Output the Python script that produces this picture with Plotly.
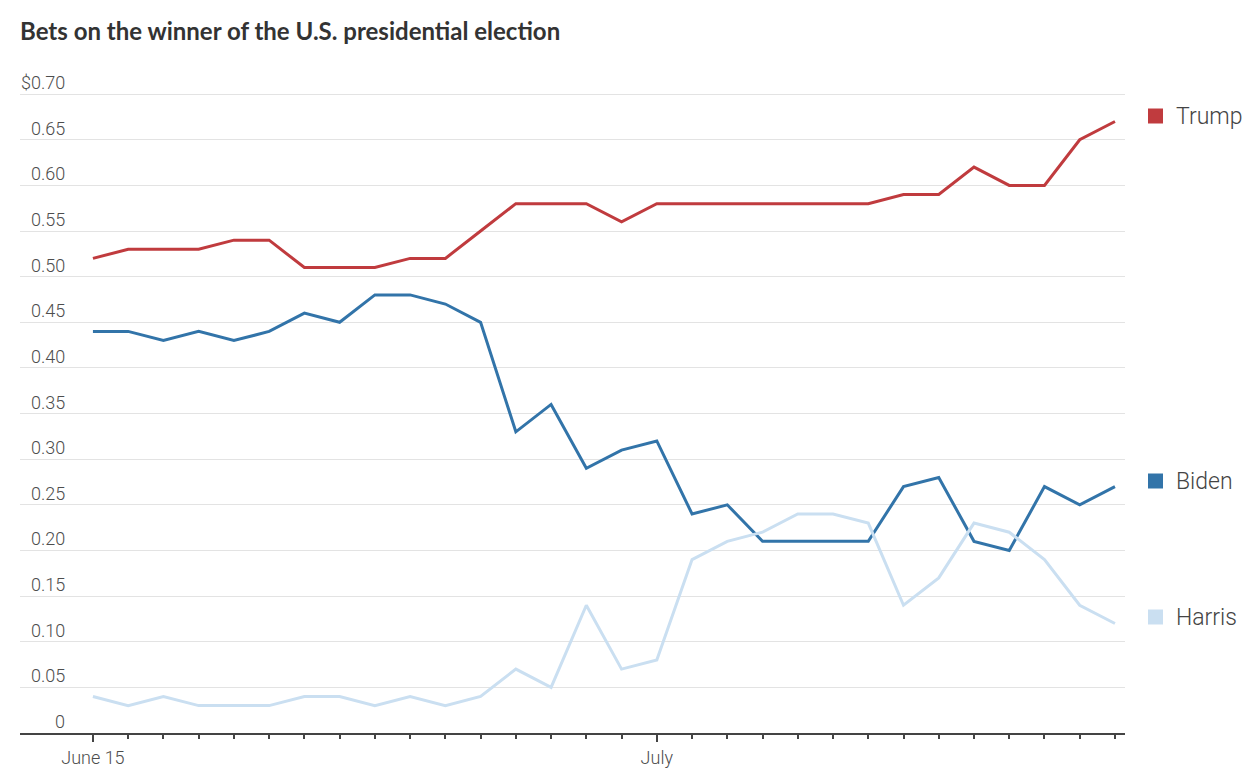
import plotly.graph_objects as go
import pandas as pd

dates = pd.date_range("2024-06-15", "2024-07-14", freq="D")
trump = [0.52, 0.53, 0.53, 0.53, 0.54, 0.54, 0.51, 0.51, 0.51, 0.52, 0.52, 0.55, 0.58, 0.58, 0.58, 0.56,
         0.58, 0.58, 0.58, 0.58, 0.58, 0.58, 0.58, 0.59, 0.59, 0.62, 0.60, 0.60, 0.65, 0.67]
biden = [0.44, 0.44, 0.43, 0.44, 0.43, 0.44, 0.46, 0.45, 0.48, 0.48, 0.47, 0.45, 0.33, 0.36, 0.29, 0.31,
         0.32, 0.24, 0.25, 0.21, 0.21, 0.21, 0.21, 0.27, 0.28, 0.21, 0.20, 0.27, 0.25, 0.27]
harris = [0.04, 0.03, 0.04, 0.03, 0.03, 0.03, 0.04, 0.04, 0.03, 0.04, 0.03, 0.04, 0.07, 0.05, 0.14, 0.07,
          0.08, 0.19, 0.21, 0.22, 0.24, 0.24, 0.23, 0.14, 0.17, 0.23, 0.22, 0.19, 0.14, 0.12]
series_names = ["Trump", "Biden", "Harris"]
colors = ["#c03b3e", "#3274a9", "#cadff1"]
ytick_vals = [0, 0.05, 0.10, 0.15, 0.20, 0.25, 0.30, 0.35, 0.40, 0.45, 0.50, 0.55, 0.60, 0.65, 0.70]
ytick_text = ["0", "0.05", "0.10", "0.15", "0.20", "0.25", "0.30", "0.35", "0.40", "0.45", "0.50",
              "0.55", "0.60", "0.65", "$0.70"]
xtick_vals = ["2024-06-15", "2024-07-01"]
xtick_text = ["June 15", "July"]

W, H = 1258, 783
L, R, T, B = 20, 1125, 85, 733
TICKFONT = dict(family="Roboto, sans-serif", size=18, color="#4d4d4d", weight=300)
XRANGE = ["2024-06-12 22:20", "2024-07-14 06:50"]

def px_x(p):
    return (p - L) / (R - L)

def px_y(p):
    return (B - p) / (B - T)

fig = go.Figure()
for name, vals, c in zip(series_names, [trump, biden, harris], colors):
    fig.add_trace(go.Scatter(x=dates, y=vals, mode="lines", name=name,
                             line=dict(color=c, width=3), showlegend=False))
# dummy trace to host the major-tick axis
fig.add_trace(go.Scatter(x=[], y=[], xaxis="x2", yaxis="y", showlegend=False, hoverinfo="skip"))

annotations = []
for v, t in zip(ytick_vals, ytick_text):
    annotations.append(dict(x=px_x(67), xref="paper", y=v, yref="y", text=t, showarrow=False,
                            xanchor="right", yanchor="bottom", yshift=-1, font=TICKFONT))

legend_y = [116, 481, 617]
shapes = []
for name, c, py in zip(series_names, colors, legend_y):
    shapes.append(dict(type="rect", xref="paper", yref="paper",
                       x0=px_x(1148), x1=px_x(1163), y0=px_y(py + 7.5), y1=px_y(py - 7.5),
                       fillcolor=c, line=dict(width=0)))
    annotations.append(dict(x=px_x(1174), xref="paper", y=px_y(py), yref="paper", text=name,
                            showarrow=False, xanchor="left", yanchor="middle",
                            font=dict(family="Roboto, sans-serif", size=23, color="#444444",
                                      weight=300)))

fig.update_layout(
    width=W, height=H,
    margin=dict(l=L, r=W - R, t=T, b=H - B, pad=0),
    paper_bgcolor="white", plot_bgcolor="white",
    title=dict(text="<b>Bets on the winner of the U.S. presidential election</b>",
               x=20 / W, xanchor="left", y=1 - 32 / H, yanchor="middle",
               font=dict(family="Lato, Roboto, sans-serif", size=24, color="#333333")),
    xaxis=dict(type="date", range=XRANGE,
               tickvals=list(dates), ticktext=[""] * len(dates), ticks="outside", ticklen=4,
               tickwidth=1.5, tickcolor="#444444", showgrid=False, showline=True,
               linecolor="#444444", linewidth=1.5, zeroline=False),
    xaxis2=dict(type="date", range=XRANGE, overlaying="x", anchor="y", side="bottom",
                tickvals=xtick_vals, ticktext=xtick_text, ticks="outside", ticklen=8,
                tickwidth=1.5, tickcolor="#444444", showgrid=False, showline=False,
                zeroline=False, tickfont=TICKFONT),
    yaxis=dict(range=[0, 0.71], tickvals=ytick_vals, showticklabels=False, showgrid=True,
               gridcolor="#e3e3e3", gridwidth=1, zeroline=False, showline=False, ticks=""),
    annotations=annotations, shapes=shapes,
)
fig.write_html("out.html", config={"displayModeBar": False},
               post_script="document.body.style.margin='0px';")
